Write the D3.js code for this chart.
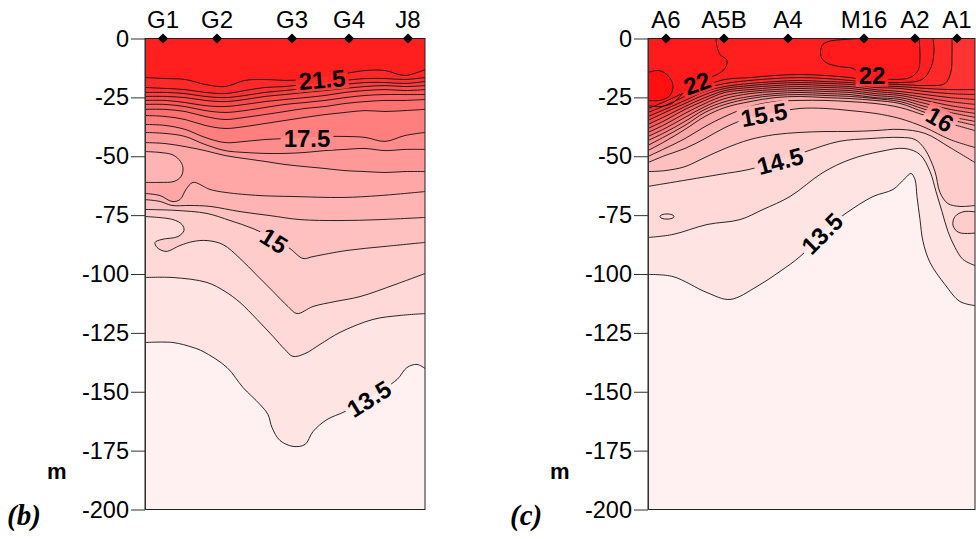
<!DOCTYPE html>
<html><head><meta charset="utf-8">
<script src="https://cdn.jsdelivr.net/npm/d3@7"></script>
<style>
body{margin:0;background:#fff;}
svg{display:block;}
text{font-family:"Liberation Sans",Arial,sans-serif;}
</style></head><body>
<svg id="chart" width="976" height="539"></svg>
<script>
// ================= DATA =================
const depthTicks = [0,25,50,75,100,125,150,175,200];
const stationsB = ["G1","G2","G3","G4","J8"];
const stationDistB = [18,72,147,204,263];
const stationsC = ["A6","A5B","A4","M16","A2","A1"];
const stationDistC = [18,76,140,216,267,309];

// ---- panel (b): isotherm depths (m) along the section (km) ----
const bDist = [0,20,40,60,80,100,120,140,160,180,200,220,240,260,280];
const b215 = [16.6,17.0,17.4,19.5,20.4,17.8,17.4,17.8,17.4,16.1,14.9,13.6,13.6,15.7,13.2];
const b210 = [20.8,21.2,21.7,22.9,23.4,22.1,20.8,20.4,19.5,18.7,17.8,17.0,17.0,17.4,16.6];
const b205 = [22.9,22.9,23.4,24.6,25.1,24.2,22.9,22.1,21.2,20.4,19.5,18.7,18.7,19.1,18.3];
const b200 = [24.6,24.6,25.1,26.3,26.8,25.9,24.6,23.8,22.9,22.1,21.2,20.4,20.0,20.4,20.0];
const b195 = [26.3,26.3,27.2,28.5,28.9,28.0,26.8,25.9,25.1,24.2,22.9,22.1,21.7,22.1,21.7];
const b190 = [28.0,28.0,28.9,30.6,31.4,30.6,29.3,28.0,27.2,26.3,25.1,24.2,23.8,23.8,23.8];
const b185 = [30.1,30.1,31.0,33.1,34.4,33.5,32.3,31.0,29.7,28.9,27.6,26.8,26.3,26.3,25.9];
const b180 = [32.7,33.1,34.4,36.9,38.2,37.4,36.1,34.8,33.5,32.3,31.4,30.6,31.0,30.6,30.1];
const b175 = [36.5,36.9,38.6,42.0,44.2,43.7,42.9,42.5,42.0,41.6,41.6,42.0,43.7,41.2,39.9];
const b170 = [39.9,40.3,41.6,45.0,47.6,48.4,48.8,48.8,48.4,47.6,47.1,46.7,47.6,47.1,47.1];
const b165 = [44.2,44.6,45.9,47.6,49.7,51.0,52.2,53.5,54.4,55.2,56.1,56.5,56.9,56.5,56.5];
const b160tongue = [[0,48.0],[15,48.4],[27,49.3],[34,51.4],[38,54.8],[36,58.6],[29,60.7],[15,61.1],[0,61.1]];
const b160 = [[0,65.8],[15,66.7],[27,69.2],[35,68.4],[41,64.1],[48,61.1],[65,64.1],[81,65.4],[115,66.7],[148,67.1],[198,67.5],[235,66.7],[280,65.0]];
const b155 = [[0,68.4],[15,69.2],[27,70.9],[45,70.9],[65,71.3],[95,73.5],[125,75.2],[155,76.9],[195,77.3],[235,76.9],[280,76.0]];
const b150 = [[0,72.6],[31,73.0],[62,74.3],[85,77.3],[108,80.7],[130,85.3],[145,89.2],[158,93.4],[168,92.6],[202,90.0],[240,88.3],[280,86.6]];
const b145 = [[0,75.6],[28,76.9],[37,79.0],[39,81.5],[33,84.1],[17,85.3],[10,86.6],[12,88.7],[21,90.4],[35,87.9],[48,86.2],[62,85.8],[78,87.5],[95,93.4],[112,100.6],[128,107.4],[143,113.8],[152,116.8],[168,113.8],[190,111.7],[215,109.6],[250,104.5],[280,99.8]];
const b140 = [[0,101.5],[28,101.5],[62,103.6],[80,107.4],[95,112.1],[112,119.3],[128,126.5],[140,132.1],[148,135.0],[160,133.8],[175,129.9],[195,124.8],[228,119.3],[255,117.6],[280,116.8]];
const b135 = [[0,129.1],[28,129.1],[48,131.2],[58,132.9],[82,139.7],[98,148.2],[115,155.4],[123,159.7],[127,165.2],[135,170.7],[148,173.2],[160,172.4],[168,166.9],[182,161.8],[200,158.4],[225,152.4],[252,144.8],[262,139.7],[272,138.4],[280,140.1]];
const labelsB = [
  {text:"21.5", dist:177, depth:17.4, angle:-5},
  {text:"17.5", dist:162, depth:42.5, angle:0},
  {text:"15",   dist:129, depth:85.8, angle:32},
  {text:"13.5", dist:224, depth:153.0, angle:-32}
];

// ---- panel (c) ----
const cDist = [0,17,37,57,77,102,127,152,177,202,227,252,277,302,327];
const c220warm = [[0,28.5],[12,28.9],[24,27.6],[32,24.6],[40,21.2],[49,19.1],[59,17.0],[69,15.3],[77,12.7],[79,9.3],[72,6.8],[69,3.4],[68,0]];
const cA6bubble = [[0,14.4],[11,13.6],[20,15.7],[25,20.0],[22,24.2],[12,26.3],[0,26.3]];
const cM16bubble = [[271,0],[272,8.1],[270,13.6],[262,16.6],[247,17.4],[232,17.0],[218,16.1],[212,14.9],[205,12.7],[191,11.9],[178,10.2],[173,7.6],[174,3.0],[180,1.3],[197,0.4],[215,0]];
const c215 = [[0,29.7],[17,26.8],[37,22.9],[57,20.0],[77,17.4],[102,16.6],[127,15.7],[152,15.3],[177,15.7],[202,16.6],[227,18.3],[252,18.7],[274,17.4],[283,12.3],[286,5.5],[285,0]];
const c210 = [[0,31.4],[17,28.5],[37,24.6],[57,21.2],[77,19.1],[102,17.8],[127,17.0],[152,16.6],[177,17.0],[202,17.8],[227,19.1],[252,19.5],[277,20.0],[297,19.1],[303,14.0],[304,6.8],[304,0]];
const c205 = [33.1,30.1,26.3,22.5,20.4,19.1,18.3,17.8,18.3,18.7,20.0,20.4,21.2,21.7,21.7];
const c200 = [34.8,31.4,27.6,23.8,21.2,20.0,19.1,18.7,19.1,19.5,20.8,21.2,22.5,23.4,23.8];
const c195 = [36.5,33.1,28.9,25.1,22.1,20.8,20.0,19.5,20.0,20.4,21.7,22.5,23.8,25.1,25.9];
const c190 = [38.2,34.8,30.1,26.3,22.9,21.7,20.8,20.4,20.8,21.2,22.5,23.4,25.1,26.8,28.0];
const c185 = [39.9,36.5,31.8,27.6,24.2,22.5,21.7,21.2,21.7,22.1,23.4,24.2,26.3,28.5,30.1];
const c180 = [41.6,38.2,33.5,28.9,25.5,23.4,22.5,22.1,22.5,22.9,24.2,25.1,27.6,30.1,31.8];
const c175 = [43.3,39.9,35.2,30.1,26.8,24.6,23.4,22.9,23.4,23.8,25.1,25.9,28.9,31.4,33.5];
const c170 = [45.4,41.6,36.9,31.4,28.0,25.5,24.2,23.8,24.2,24.6,25.5,26.8,30.1,33.1,35.2];
const c165 = [47.6,43.7,38.6,33.1,29.3,26.8,25.1,24.6,25.1,25.5,26.3,27.6,31.4,34.4,36.9];
const c160 = [50.1,46.7,42.5,37.4,33.1,28.9,26.8,26.3,26.3,26.8,27.6,29.3,32.7,36.1,39.1];
const c155 = [52.7,49.7,46.7,42.5,37.8,33.5,31.4,29.7,29.7,30.6,31.8,34.0,37.8,42.9,46.3];
const c150 = [56.5,56.1,54.4,50.5,46.7,42.9,40.8,39.9,39.5,39.5,39.1,38.6,40.3,46.3,52.7];
const c145 = [[0,62.8],[17,61.6],[41,59.9],[72,57.7],[101,55.6],[132,51.8],[158,48.0],[191,43.7],[222,42.5],[252,42.0],[267,42.9],[277,47.1],[287,56.5],[292,65.4],[300,70.1],[312,71.3],[327,70.9]];
const c145tongue = [[332,73.9],[316,73.5],[307,75.6],[305,79.4],[311,82.4],[332,82.4]];
const c140 = [[0,84.5],[25,83.2],[59,79.0],[92,76.9],[115,72.6],[142,67.1],[175,56.9],[202,51.4],[232,48.0],[257,46.7],[272,49.3],[282,56.5],[288,65.0],[294,73.5],[300,82.0],[307,88.7],[315,93.8],[327,96.4]];
const c135 = [[0,100.2],[25,101.1],[59,107.9],[82,110.8],[109,105.3],[132,98.9],[152,92.6],[167,86.2],[182,79.4],[199,73.9],[225,67.1],[245,64.1],[257,59.4],[263,57.3],[267,59.9],[269,67.1],[272,76.9],[275,86.2],[282,95.1],[297,104.5],[312,111.7],[327,113.4]];
const cSpot = [19, 75.6];
const labelsC = [
  {text:"22",   dist:49,  depth:18.9, angle:-20},
  {text:"22",   dist:224, depth:15.7, angle:0},
  {text:"15.5", dist:116, depth:32.3, angle:-10},
  {text:"16",   dist:292, depth:34.3, angle:30},
  {text:"14.5", dist:132, depth:52.0, angle:-15},
  {text:"13.5", dist:174, depth:82.8, angle:-45}
];

// ================= STYLE / SCALES =================
const bandTemps  = [13.25,13.75,14.25,14.75,15.25,15.75,16.25,16.75,17.25,17.75,18.25,18.75,19.25,19.75,20.25,20.75,21.25,21.75,22.25,22.75];
const bandColors = ["#fff1f1","#ffe4e4","#ffd8d8","#ffcccc","#ffc0c0","#ffb3b3","#ffa6a6","#ff9999","#ff8c8c","#ff7e7e","#ff7070","#ff6363","#ff5656","#ff4a4a","#ff3e3e","#ff3333","#ff2929","#ff1f1f","#ff1b1b","#ff0f0f"];
const color = d3.scaleLinear().domain(bandTemps).range(bandColors);

const yTop = 38.5, yBot = 509.5;
const y = d3.scaleLinear().domain([0,200]).range([yTop,yBot]);
const svg = d3.select("#chart");
const defs = svg.append("defs");

const zip = (xs, ds) => xs.map((v,i)=>[v, ds[i]]);

const panels = [
  {
    id:"b", x:d3.scaleLinear().domain([0,280]).range([145,425]),
    stations:stationsB, stationDist:stationDistB, tag:"(b)", topTemp:21.75,
    layers:[
      {t:21.5, pts:zip(bDist,b215)}, {t:21.0, pts:zip(bDist,b210)}, {t:20.5, pts:zip(bDist,b205)},
      {t:20.0, pts:zip(bDist,b200)}, {t:19.5, pts:zip(bDist,b195)}, {t:19.0, pts:zip(bDist,b190)},
      {t:18.5, pts:zip(bDist,b185)}, {t:18.0, pts:zip(bDist,b180)}, {t:17.5, pts:zip(bDist,b175)},
      {t:17.0, pts:zip(bDist,b170)}, {t:16.5, pts:zip(bDist,b165)},
      {t:16.0, pts:b160tongue, closed:true, fillT:15.75},
      {t:16.0, pts:b160}, {t:15.5, pts:b155}, {t:15.0, pts:b150},
      {t:14.5, pts:b145}, {t:14.0, pts:b140}, {t:13.5, pts:b135}
    ],
    labels:labelsB, spot:null
  },
  {
    id:"c", x:d3.scaleLinear().domain([0,327]).range([648,975]),
    stations:stationsC, stationDist:stationDistC, tag:"(c)", topTemp:21.75,
    layers:[
      {t:22.0, pts:c220warm, corner:"topleft", fillT:22.25},
      {t:22.0, pts:cM16bubble, closed:true, fillT:22.25},
      {t:22.5, pts:cA6bubble, closed:true, fillT:22.75},
      {t:21.5, pts:c215, end:"top"}, {t:21.0, pts:c210, end:"top"},
      {t:20.5, pts:zip(cDist,c205)}, {t:20.0, pts:zip(cDist,c200)}, {t:19.5, pts:zip(cDist,c195)},
      {t:19.0, pts:zip(cDist,c190)}, {t:18.5, pts:zip(cDist,c185)}, {t:18.0, pts:zip(cDist,c180)},
      {t:17.5, pts:zip(cDist,c175)}, {t:17.0, pts:zip(cDist,c170)}, {t:16.5, pts:zip(cDist,c165)},
      {t:16.0, pts:zip(cDist,c160)}, {t:15.5, pts:zip(cDist,c155)}, {t:15.0, pts:zip(cDist,c150)},
      {t:14.5, pts:c145},
      {t:14.5, pts:c145tongue, closed:true, fillT:14.75},
      {t:14.0, pts:c140}, {t:13.5, pts:c135}
    ],
    labels:labelsC, spot:cSpot
  }
];

panels.forEach(p => {
  const xs = p.x;
  const [x0,x1] = xs.range();
  const clipId = "clip-"+p.id, maskId = "mask-"+p.id;
  defs.append("clipPath").attr("id",clipId).append("rect")
    .attr("x",x0).attr("y",yTop).attr("width",x1-x0).attr("height",yBot-yTop);
  const mask = defs.append("mask").attr("id",maskId).attr("maskUnits","userSpaceOnUse")
    .attr("x",0).attr("y",0).attr("width",976).attr("height",539);
  mask.append("rect").attr("x",0).attr("y",0).attr("width",976).attr("height",539).attr("fill","#fff");

  const line = d3.line().x(d=>xs(d[0])).y(d=>y(d[1])).curve(d3.curveCatmullRom.alpha(0.5));
  const plot = svg.append("g").attr("clip-path",`url(#${clipId})`);
  plot.append("rect").attr("x",x0).attr("y",yTop).attr("width",x1-x0).attr("height",yBot-yTop)
    .attr("fill",color(p.topTemp));

  p.layers.forEach(L => {
    let d = line(L.pts);
    if (L.corner==="topleft") {
      d += `L${x0-3},${yTop-3}Z`;
    } else if (L.closed) {
      d += "Z";
    } else {
      if (L.end==="top") d += `L${x1+3},${yTop-3}`;
      d += `L${x1+3},${yBot+3}L${x0-3},${yBot+3}L${x0-3},${y(L.pts[0][1])}Z`;
    }
    plot.append("path").attr("d",d)
      .attr("fill", color(L.fillT!==undefined ? L.fillT : L.t - 0.25));
  });

  if (p.spot) {
    plot.append("ellipse").attr("cx",xs(p.spot[0])).attr("cy",y(p.spot[1]))
      .attr("rx",7).attr("ry",2.6).attr("fill",color(14.25)).attr("stroke","#111").attr("stroke-width",0.9);
  }

  const lines = plot.append("g").attr("mask",`url(#${maskId})`);
  p.layers.forEach(L => {
    lines.append("path").attr("d",line(L.pts)).attr("fill","none")
      .attr("stroke","#111").attr("stroke-width",0.9);
  });

  // contour labels
  const lab = svg.append("g");
  p.labels.forEach(l => {
    const cx = xs(l.dist), cy = y(l.depth);
    const t = lab.append("text").attr("transform",`translate(${cx},${cy}) rotate(${l.angle})`)
      .attr("text-anchor","middle").attr("dy","0.36em")
      .style("font-size","24px").style("font-weight","bold").attr("fill","#000").text(l.text);
    const w = t.node().getComputedTextLength();
    mask.append("rect").attr("transform",`translate(${cx},${cy}) rotate(${l.angle})`)
      .attr("x",-w/2-3).attr("y",-11).attr("width",w+6).attr("height",22).attr("fill","#000");
  });

  // frame
  svg.append("rect").attr("x",x0).attr("y",yTop).attr("width",x1-x0).attr("height",yBot-yTop)
    .attr("fill","none").attr("stroke","#222").attr("stroke-width",1);

  // axis
  const ax = svg.append("g").attr("transform",`translate(${x0},0)`)
    .call(d3.axisLeft(y).tickValues(depthTicks).tickSize(14).tickSizeOuter(0).tickPadding(2)
      .tickFormat(d => d===0 ? "0" : "-"+d));
  ax.select(".domain").attr("stroke","#333");
  ax.selectAll(".tick line").attr("stroke","#333");
  ax.selectAll(".tick text").style("font-size","23.5px").style("font-family","'Liberation Sans',Arial,sans-serif").attr("fill","#000");

  // stations
  p.stations.forEach((s,i) => {
    const sx = xs(p.stationDist[i]);
    svg.append("text").attr("x",sx).attr("y",28).attr("text-anchor","middle")
      .style("font-size","24px").attr("fill","#000").text(s);
    svg.append("path").attr("d",d3.symbol(d3.symbolSquare,52)())
      .attr("transform",`translate(${sx},${yTop}) rotate(45)`).attr("fill","#000");
  });

  // unit + panel tag
  svg.append("text").attr("x",x0-98).attr("y",479).style("font-size","22px").style("font-weight","bold")
    .attr("fill","#000").text("m");
  svg.append("text").attr("x",x0-138).attr("y",525)
    .style("font-family","'Liberation Serif','Times New Roman',serif").style("font-size","29px")
    .style("font-weight","bold").style("font-style","italic").attr("fill","#000").text(p.tag);
});
</script>
</body></html>
